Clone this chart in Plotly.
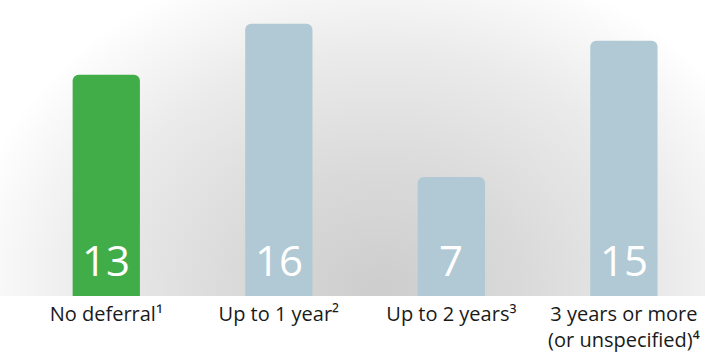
import base64
import plotly.graph_objects as go

# ---- data ----
categories = ["No deferral", "Up to 1 year", "Up to 2 years", "3 years or more"]
values = [13, 16, 7, 15]
tick_labels = [
    "No deferral¹",
    "Up to 1 year²",
    "Up to 2 years³",
    "3 years or more<br>(or unspecified)⁴",
]
highlight = "No deferral"

# ---- styling ----
GREEN = "#41ad49"
BLUE = "#b0c9d4"
colors = [GREEN if c == highlight else BLUE for c in categories]

W, H = 705, 360
ML, MR, MT, MB = 20, 0, 0, 64
plot_w = W - ML - MR

svg = (
    '<svg xmlns="http://www.w3.org/2000/svg" width="705" height="296" '
    'viewBox="0 0 705 296" preserveAspectRatio="none">'
    '<defs><radialGradient id="g" gradientUnits="userSpaceOnUse" cx="380" cy="290" r="420" '
    'gradientTransform="translate(380 290) scale(1 0.82) translate(-380 -290)">'
    '<stop offset="0" stop-color="#cdcdcd"/>'
    '<stop offset="0.35" stop-color="#dadada"/>'
    '<stop offset="0.7" stop-color="#ebebeb"/>'
    '<stop offset="0.9" stop-color="#f8f8f8"/>'
    '<stop offset="1" stop-color="#ffffff"/>'
    '</radialGradient></defs>'
    '<rect width="705" height="296" fill="url(#g)"/></svg>'
)
src = "data:image/svg+xml;base64," + base64.b64encode(svg.encode()).decode()

fig = go.Figure(
    go.Bar(
        x=categories,
        y=values,
        marker=dict(color=colors, line=dict(width=0)),
        hoverinfo="skip",
    )
)

for c, v in zip(categories, values):
    fig.add_annotation(
        x=c, y=0, text=str(v), showarrow=False,
        yanchor="bottom", yshift=6,
        font=dict(family="Open Sans", size=42, color="white"),
    )

fig.add_layout_image(
    source=src, xref="paper", yref="paper",
    x=-ML / plot_w, y=1, sizex=W / plot_w, sizey=1,
    xanchor="left", yanchor="top", sizing="stretch", layer="below",
)

fig.update_layout(
    width=W, height=H,
    margin=dict(l=ML, r=MR, t=MT, b=MB),
    paper_bgcolor="white",
    plot_bgcolor="rgba(0,0,0,0)",
    bargap=0.61,
    barcornerradius=6,
    showlegend=False,
    font=dict(family="Open Sans", color="#1a1a1a"),
)
fig.update_xaxes(
    range=[-0.5, 3.47],
    tickmode="array", tickvals=categories, ticktext=tick_labels,
    tickfont=dict(family="Open Sans", size=20, color="#1a1a1a"),
    ticklabelstandoff=4,
    showgrid=False, zeroline=False, showline=False, ticks="",
    fixedrange=True,
)
fig.update_yaxes(range=[0, 17.4], visible=False, fixedrange=True)

fig.write_html(
    "out.html",
    config={"displayModeBar": False},
    post_script="document.body.style.margin='0';",
)
